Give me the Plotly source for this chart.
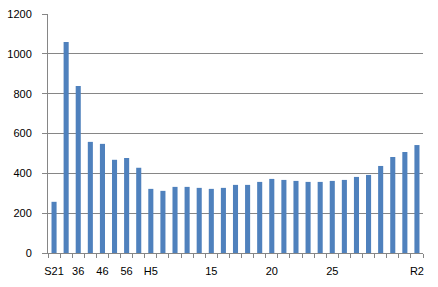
import plotly.graph_objects as go

values = [257, 1060, 838, 558, 548, 468, 477, 428, 322, 312, 332, 332, 327, 322,
          327, 342, 342, 357, 372, 367, 362, 357, 357, 362, 367, 382, 392, 437, 482, 507, 542]
positions = list(range(1, len(values) + 1))
tick_positions = [1, 3, 5, 7, 9, 14, 19, 24, 31]
tick_labels = ["S21", "36", "46", "56", "H5", "15", "20", "25", "R2"]
y_ticks = [0, 200, 400, 600, 800, 1000, 1200]

grey = "#868686"
fig = go.Figure(go.Bar(x=positions, y=values, marker=dict(color="#4F81BD", line=dict(width=0)),
                       width=0.42))
fig.update_layout(
    width=438, height=287,
    margin=dict(l=48, r=15, t=14, b=34),
    paper_bgcolor="white", plot_bgcolor="white",
    showlegend=False,
    font=dict(family="Liberation Sans", size=11, color="black"),
)
fig.update_xaxes(
    range=[0.5, len(values) + 0.5], tickmode="array", tickvals=tick_positions, ticktext=tick_labels,
    ticks="", showgrid=False, zeroline=False, showline=True, linecolor=grey, linewidth=1,
    ticklabelstandoff=8, automargin=False,
    minor=dict(ticks="outside", ticklen=4, tickcolor=grey, tick0=0.5, dtick=1, showgrid=False),
)
fig.update_yaxes(
    range=[0, 1200], tickmode="array", tickvals=y_ticks, showgrid=True, gridcolor=grey, gridwidth=1,
    zeroline=False, showline=True, linecolor=grey, linewidth=1, ticks="outside", ticklen=5,
    tickcolor=grey, ticklabelstandoff=8, automargin=False,
)
fig.write_html("out.html")
